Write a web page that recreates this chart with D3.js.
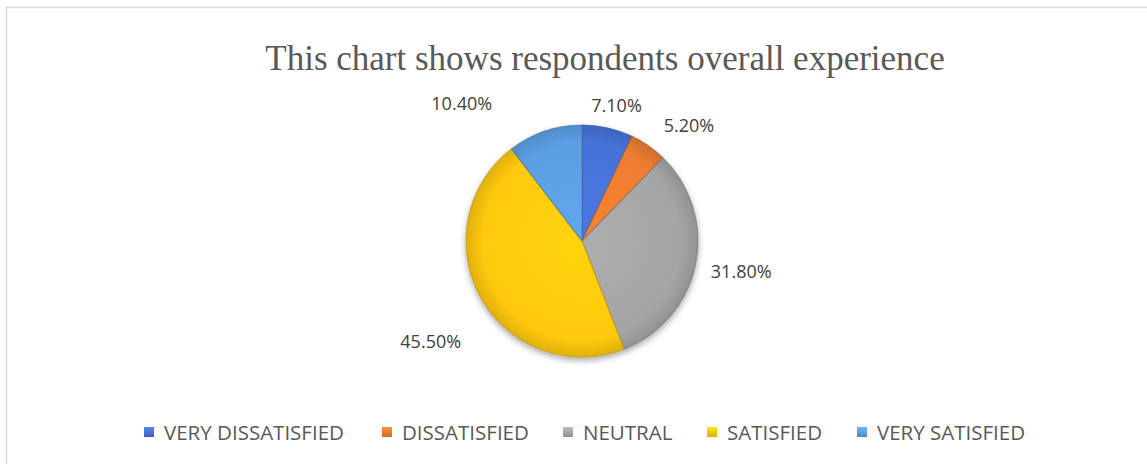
<!DOCTYPE html>
<html>
<head>
<meta charset="utf-8">
<script src="https://cdn.jsdelivr.net/npm/d3@7"></script>
<style>
  html, body { margin: 0; padding: 0; background: #fff; }
  svg { display: block; }
</style>
</head>
<body>
<svg id="chart" width="1147" height="464"></svg>
<script>
// Survey responses on overall experience (percent of respondents)
const categories = ["VERY DISSATISFIED", "DISSATISFIED", "NEUTRAL", "SATISFIED", "VERY SATISFIED"];
const values = [7.1, 5.2, 31.8, 45.5, 10.4];
const labels = ["7.10%", "5.20%", "31.80%", "45.50%", "10.40%"];
const colors = ["#4672d8", "#ed7d31", "#a5a5a5", "#ffc90e", "#5b9fe3"];
const title = "This chart shows respondents overall experience";

const W = 1147, H = 464;
const cx = 582, cy = 241, R = 116;

const svg = d3.select("#chart");
const defs = svg.append("defs");

// frame
svg.append("rect")
  .attr("x", 6.5).attr("y", 7.5)
  .attr("width", W + 10).attr("height", H + 10)
  .attr("fill", "#fff")
  .attr("stroke", "#d9d9d9").attr("stroke-width", 1.5);

// title
svg.append("text")
  .attr("x", 605).attr("y", 70)
  .attr("text-anchor", "middle")
  .attr("font-family", "'Liberation Serif', 'Times New Roman', serif")
  .attr("font-size", 35)
  .attr("fill", "#595959")
  .text(title);

const data = categories.map((c, i) => ({ cat: c, value: values[i], label: labels[i], color: colors[i] }));

const pie = d3.pie().value(d => d.value).sort(null);
const arcs = pie(data);
const arc = d3.arc().innerRadius(0).outerRadius(R);

// soft bevel gradients per slice (centred on the pie group origin)
data.forEach((d, i) => {
  const base = d3.color(d.color);
  const g = defs.append("radialGradient")
    .attr("id", "grad" + i)
    .attr("gradientUnits", "userSpaceOnUse")
    .attr("cx", 0).attr("cy", 0).attr("r", R);
  g.append("stop").attr("offset", "0%").attr("stop-color", base.brighter(0.15));
  g.append("stop").attr("offset", "85%").attr("stop-color", base);
  g.append("stop").attr("offset", "100%").attr("stop-color", base.darker(0.35));
});

const shadow = defs.append("filter").attr("id", "shadow")
  .attr("x", "-20%").attr("y", "-20%").attr("width", "140%").attr("height", "140%");
shadow.append("feGaussianBlur").attr("in", "SourceAlpha").attr("stdDeviation", 3).attr("result", "blur");
shadow.append("feOffset").attr("dx", 0).attr("dy", 3).attr("result", "off");
shadow.append("feComponentTransfer").append("feFuncA").attr("type", "linear").attr("slope", 0.35);
const merge = shadow.append("feMerge");
merge.append("feMergeNode");
merge.append("feMergeNode").attr("in", "SourceGraphic");

const pieG = svg.append("g")
  .attr("transform", `translate(${cx},${cy})`)
  .attr("filter", "url(#shadow)");

pieG.selectAll("path.slice")
  .data(arcs)
  .join("path")
  .attr("class", "slice")
  .attr("d", arc)
  .attr("fill", (d, i) => `url(#grad${i})`)
  .attr("stroke", d => d3.color(d.data.color).darker(0.9))
  .attr("stroke-width", 1.2)
  .attr("stroke-opacity", 0.6);

// data labels outside each slice, with best-fit nudges to avoid overlaps
const labelArc = d3.arc().innerRadius(R + 22).outerRadius(R + 22);
const nudges = [[4, -1], [28, -3], [24, 2], [-31, 32], [-76, -7]];
svg.append("g")
  .attr("transform", `translate(${cx},${cy})`)
  .selectAll("text")
  .data(arcs)
  .join("text")
  .attr("x", (d, i) => labelArc.centroid(d)[0] + nudges[i][0])
  .attr("y", (d, i) => labelArc.centroid(d)[1] + nudges[i][1])
  .attr("text-anchor", "middle")
  .attr("dominant-baseline", "central")
  .attr("font-family", "'Open Sans', sans-serif")
  .attr("font-size", 18)
  .attr("fill", "#404040")
  .text(d => d.data.label);

// legend
data.forEach((d, i) => {
  const base = d3.color(d.color);
  const g = defs.append("linearGradient").attr("id", "lg" + i)
    .attr("x1", 0).attr("y1", 0).attr("x2", 0).attr("y2", 1);
  g.append("stop").attr("offset", "0%").attr("stop-color", base.brighter(0.4));
  g.append("stop").attr("offset", "100%").attr("stop-color", base.darker(0.4));
});

const legendX = [144, 382, 563, 707, 857];
const items = svg.append("g").selectAll("g")
  .data(data)
  .join("g")
  .attr("transform", (d, i) => `translate(${legendX[i]},432)`);

items.append("rect")
  .attr("x", 0).attr("y", -5)
  .attr("width", 10).attr("height", 10)
  .attr("fill", (d, i) => `url(#lg${i})`);

items.append("text")
  .attr("x", 20).attr("y", 0)
  .attr("dominant-baseline", "central")
  .attr("font-family", "'Open Sans', sans-serif")
  .attr("font-size", 20.5)
  .attr("fill", "#595959")
  .text(d => d.cat);
</script>
</body>
</html>
